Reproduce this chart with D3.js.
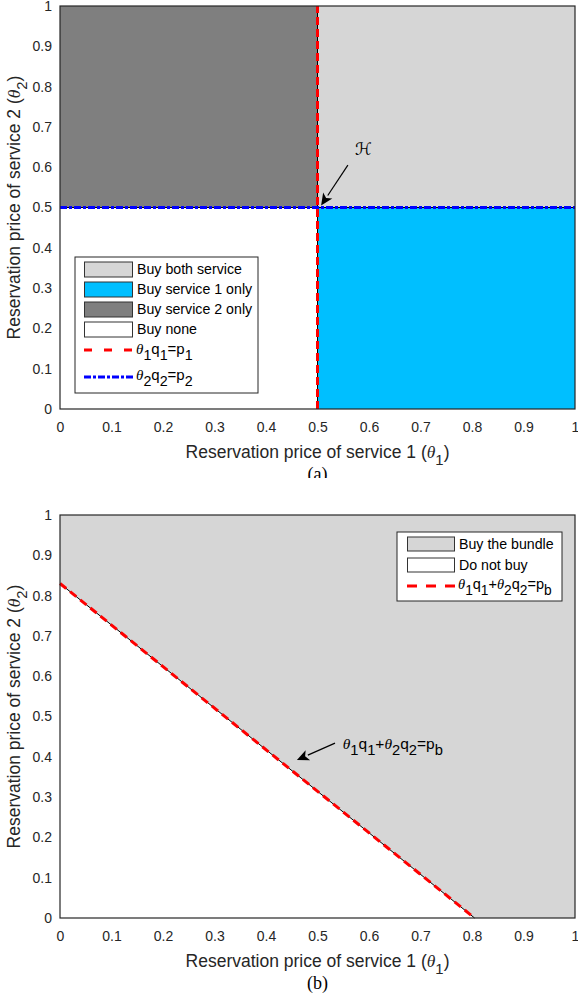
<!DOCTYPE html>
<html>
<head>
<meta charset="utf-8">
<script src="https://cdn.jsdelivr.net/npm/d3@7"></script>
<style>
  body { margin: 0; background: #fff; }
  svg { display: block; font-family: "Liberation Sans", Arial, sans-serif; }
</style>
</head>
<body>
<svg id="chart" width="578" height="996"></svg>
<script>
// ---- data ----
const tickVals = [0, 0.1, 0.2, 0.3, 0.4, 0.5, 0.6, 0.7, 0.8, 0.9, 1];
const tickLabels = ["0", "0.1", "0.2", "0.3", "0.4", "0.5", "0.6", "0.7", "0.8", "0.9", "1"];

// panel (a): thresholds p1/q1 and p2/q2
const thr1 = 0.5;
const thr2 = 0.5;
const regionNamesA = ["Buy both service", "Buy service 1 only", "Buy service 2 only", "Buy none"];
const regionX0A = [0.5, 0.5, 0, 0];
const regionX1A = [1, 1, 0.5, 0.5];
const regionY0A = [0.5, 0, 0.5, 0];
const regionY1A = [1, 0.5, 1, 0.5];
const regionColorsA = ["#d6d6d6", "#00bfff", "#7f7f7f", "#ffffff"];

// panel (b): bundle line intercepts
const bundleYIntercept = 0.83;
const bundleXIntercept = 0.805;
const regionNamesB = ["Buy the bundle", "Do not buy"];
const regionColorsB = ["#d6d6d6", "#ffffff"];

// annotations (data units)
const arrowA = { x1: 0.559, y1: 0.605, x2: 0.507, y2: 0.505, tx: 0.573, ty: 0.63 };
const arrowB = { x1: 0.534, y1: 0.434, x2: 0.46, y2: 0.392, tx: 0.549, ty: 0.42 };

const axisColor = "#262626";
const svg = d3.select("#chart");

const defs = svg.append("defs");
defs.append("clipPath").attr("id", "clipA")
  .append("rect").attr("x", 0).attr("y", 0).attr("width", 578).attr("height", 478);

// subscript-aware text
function richText(sel, parts, size, subScale) {
  const ss = subScale || 0.85;
  let down = false;
  parts.forEach(p => {
    const ts = sel.append("tspan").text(p.t);
    if (p.sub) {
      ts.attr("font-size", size * ss);
      if (!down) { ts.attr("dy", size * 0.4); down = true; }
    } else if (down) {
      ts.attr("dy", -size * 0.4); down = false;
    }
    if (p.it) ts.attr("font-style", "italic").attr("font-family", "Liberation Serif, serif");
  });
}
const eqA1 = [{t: "θ", it: true}, {t: "1", sub: true}, {t: "q"}, {t: "1", sub: true}, {t: "=p"}, {t: "1", sub: true}];
const eqA2 = [{t: "θ", it: true}, {t: "2", sub: true}, {t: "q"}, {t: "2", sub: true}, {t: "=p"}, {t: "2", sub: true}];
const eqB = [{t: "θ", it: true}, {t: "1", sub: true}, {t: "q"}, {t: "1", sub: true}, {t: "+"},
             {t: "θ", it: true}, {t: "2", sub: true}, {t: "q"}, {t: "2", sub: true}, {t: "=p"}, {t: "b", sub: true}];

function drawAxes(g, x, y, top, bottom, subLabel, clip) {
  const left = x.range()[0], right = x.range()[1];
  g.append("rect")
    .attr("x", left).attr("y", top).attr("width", right - left).attr("height", bottom - top)
    .attr("fill", "none").attr("stroke", axisColor).attr("stroke-width", 1.2);

  const xa = g.append("g").attr("transform", `translate(0,${bottom})`)
    .call(d3.axisBottom(x).tickValues(tickVals).tickFormat((d, i) => tickLabels[i]).tickSize(0).tickPadding(13));
  const ya = g.append("g").attr("transform", `translate(${left},0)`)
    .call(d3.axisLeft(y).tickValues(tickVals).tickFormat((d, i) => tickLabels[i]).tickSize(0).tickPadding(8));
  [xa, ya].forEach(a => {
    a.select(".domain").remove();
    a.selectAll("text").attr("fill", axisColor).attr("font-size", 14).attr("font-family", "Liberation Sans, Arial, sans-serif");
  });

  const xt = g.append("text").attr("x", (left + right) / 2).attr("y", bottom + 49)
    .attr("text-anchor", "middle").attr("font-size", 17.5).attr("fill", axisColor);
  richText(xt, [{t: "Reservation price of service 1 ("}, {t: "θ", it: true}, {t: "1", sub: true}, {t: ")"}], 17.5);

  const yt = g.append("text")
    .attr("transform", `translate(20,${(top + bottom) / 2}) rotate(-90)`)
    .attr("text-anchor", "middle").attr("font-size", 17.5).attr("fill", axisColor);
  richText(yt, [{t: "Reservation price of service 2 ("}, {t: "θ", it: true}, {t: "2", sub: true}, {t: ")"}], 17.5);

  const st = g.append("text").attr("x", (left + right) / 2).attr("y", bottom + 71)
    .attr("text-anchor", "middle").attr("font-size", 18).attr("font-family", "Liberation Serif, serif")
    .attr("fill", "#000").text(subLabel);
  if (clip) st.attr("clip-path", "url(#clipA)");
}

function drawArrow(g, x, y, a) {
  const x1 = x(a.x1), y1 = y(a.y1), x2 = x(a.x2), y2 = y(a.y2);
  const ang = Math.atan2(y2 - y1, x2 - x1);
  const L = 12, W = 5.5;
  const bx = x2 - L * Math.cos(ang), by = y2 - L * Math.sin(ang);
  g.append("line").attr("x1", x1).attr("y1", y1).attr("x2", bx).attr("y2", by)
    .attr("stroke", "#000").attr("stroke-width", 1.2);
  g.append("path")
    .attr("d", `M${x2},${y2} L${bx - W * Math.sin(ang)},${by + W * Math.cos(ang)} L${bx + 3 * Math.cos(ang)},${by + 3 * Math.sin(ang)} L${bx + W * Math.sin(ang)},${by - W * Math.cos(ang)} Z`)
    .attr("fill", "#000");
}

// ================= panel (a) =================
const xA = d3.scaleLinear().domain([0, 1]).range([60, 575]);
const yA = d3.scaleLinear().domain([0, 1]).range([409, 6]);
const gA = svg.append("g");

gA.selectAll(".regA").data(regionNamesA).join("rect").attr("class", "regA")
  .attr("x", (d, i) => xA(regionX0A[i]))
  .attr("y", (d, i) => yA(regionY1A[i]))
  .attr("width", (d, i) => xA(regionX1A[i]) - xA(regionX0A[i]))
  .attr("height", (d, i) => yA(regionY0A[i]) - yA(regionY1A[i]))
  .attr("fill", (d, i) => regionColorsA[i]);

// thin black boundaries under dashed lines
gA.append("line").attr("x1", xA(thr1)).attr("x2", xA(thr1)).attr("y1", yA(0)).attr("y2", yA(1))
  .attr("stroke", "#000").attr("stroke-width", 1);
gA.append("line").attr("x1", xA(0)).attr("x2", xA(1)).attr("y1", yA(thr2)).attr("y2", yA(thr2))
  .attr("stroke", "#000").attr("stroke-width", 1);
gA.append("line").attr("x1", xA(0)).attr("x2", xA(1)).attr("y1", yA(thr2)).attr("y2", yA(thr2))
  .attr("stroke", "#0000ff").attr("stroke-width", 3).attr("stroke-dasharray", "7,2,3,2");
gA.append("line").attr("x1", xA(thr1)).attr("x2", xA(thr1)).attr("y1", yA(0)).attr("y2", yA(1))
  .attr("stroke", "#ff0000").attr("stroke-width", 3).attr("stroke-dasharray", "8,4");

drawAxes(gA, xA, yA, 6, 409, "(a)", true);

drawArrow(gA, xA, yA, arrowA);
gA.append("text").attr("x", xA(arrowA.tx)).attr("y", yA(arrowA.ty))
  .attr("font-size", 17).attr("font-family", "DejaVu Sans, sans-serif")
  .text("ℋ");

// legend (a)
const legA = gA.append("g");
legA.append("rect").attr("x", 75).attr("y", 257).attr("width", 183).attr("height", 136)
  .attr("fill", "#fff").attr("stroke", axisColor).attr("stroke-width", 1);
regionNamesA.forEach((name, i) => {
  const cy = 269.5 + i * 20;
  legA.append("rect").attr("x", 84.5).attr("y", cy - 7.5).attr("width", 48).attr("height", 15)
    .attr("fill", regionColorsA[i]).attr("stroke", "#333").attr("stroke-width", 1);
  legA.append("text").attr("x", 137).attr("y", cy).attr("dy", "0.35em").attr("font-size", 14.2).text(name);
});
legA.append("line").attr("x1", 84).attr("x2", 133).attr("y1", 350).attr("y2", 350)
  .attr("stroke", "#ff0000").attr("stroke-width", 3).attr("stroke-dasharray", "8,12");
legA.append("line").attr("x1", 84).attr("x2", 133).attr("y1", 377).attr("y2", 377)
  .attr("stroke", "#0000ff").attr("stroke-width", 3).attr("stroke-dasharray", "7,2,3,2");
richText(legA.append("text").attr("x", 136).attr("y", 349).attr("dy", "0.3em").attr("font-size", 15), eqA1, 15, 0.95);
richText(legA.append("text").attr("x", 136).attr("y", 375).attr("dy", "0.3em").attr("font-size", 15), eqA2, 15, 0.95);

// ================= panel (b) =================
const xB = d3.scaleLinear().domain([0, 1]).range([60, 575]);
const yB = d3.scaleLinear().domain([0, 1]).range([918, 515]);
const gB = svg.append("g");

gB.append("rect").attr("x", xB(0)).attr("y", yB(1)).attr("width", xB(1) - xB(0)).attr("height", yB(0) - yB(1))
  .attr("fill", regionColorsB[0]);
const tri = [[0, 0], [0, bundleYIntercept], [bundleXIntercept, 0]];
gB.append("path").attr("d", d3.line().x(d => xB(d[0])).y(d => yB(d[1]))(tri) + "Z")
  .attr("fill", regionColorsB[1]);
const bl = [[0, bundleYIntercept], [bundleXIntercept, 0]];
gB.append("path").attr("d", d3.line().x(d => xB(d[0])).y(d => yB(d[1]))(bl))
  .attr("stroke", "#000").attr("stroke-width", 1).attr("fill", "none");
gB.append("path").attr("d", d3.line().x(d => xB(d[0])).y(d => yB(d[1]))(bl))
  .attr("stroke", "#ff0000").attr("stroke-width", 3).attr("stroke-dasharray", "8,5").attr("fill", "none");

drawAxes(gB, xB, yB, 515, 918, "(b)", false);

drawArrow(gB, xB, yB, arrowB);
richText(gB.append("text").attr("x", xB(arrowB.tx)).attr("y", yB(arrowB.ty)).attr("font-size", 15.5), eqB, 15.5, 0.95);

// legend (b)
const legB = gB.append("g");
legB.append("rect").attr("x", 397).attr("y", 532).attr("width", 165).attr("height", 69)
  .attr("fill", "#fff").attr("stroke", axisColor).attr("stroke-width", 1);
regionNamesB.forEach((name, i) => {
  const cy = 544 + i * 21;
  legB.append("rect").attr("x", 407.5).attr("y", cy - 7).attr("width", 47).attr("height", 14)
    .attr("fill", regionColorsB[i]).attr("stroke", "#333").attr("stroke-width", 1);
  legB.append("text").attr("x", 459).attr("y", cy).attr("dy", "0.35em").attr("font-size", 14.2).text(name);
});
legB.append("line").attr("x1", 407).attr("x2", 455).attr("y1", 586).attr("y2", 586)
  .attr("stroke", "#ff0000").attr("stroke-width", 3).attr("stroke-dasharray", "10,9");
richText(legB.append("text").attr("x", 458).attr("y", 585).attr("dy", "0.3em").attr("font-size", 14.5), eqB, 14.5, 0.95);
</script>
</body>
</html>
